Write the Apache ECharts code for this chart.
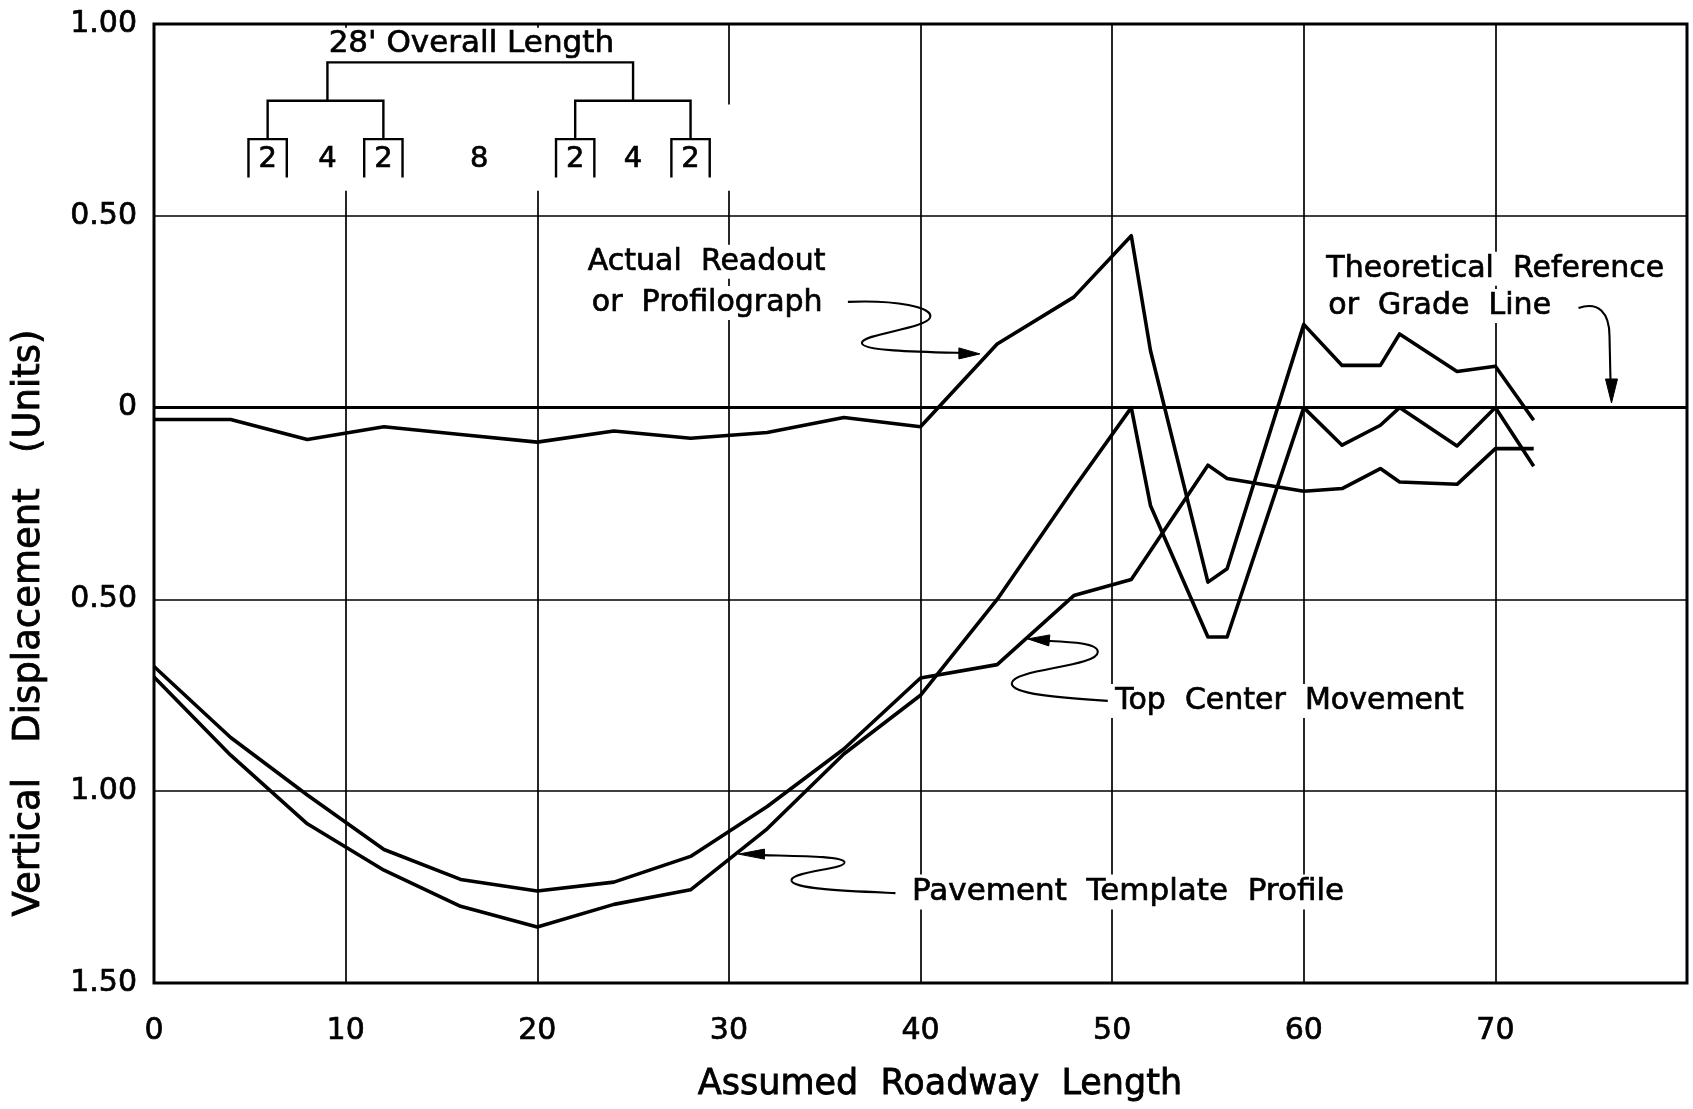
<!DOCTYPE html>
<html>
<head>
<meta charset="utf-8">
<script src="https://cdn.jsdelivr.net/npm/echarts@6/dist/echarts.min.js"></script>
<style>
  html, body { margin: 0; padding: 0; background: #fff; }
  #chart { width: 1693px; height: 1109px; }
</style>
</head>
<body>
<div id="chart"></div>
<script>
// Station along the roadway (ft) and vertical displacement (units, up = positive)
const readoutX  = [0, 4, 8, 12, 16, 20, 24, 28, 32, 36, 40, 44, 48, 51, 52, 55, 56, 60, 62, 64, 65, 68, 70, 72];
const readoutY  = [-0.031, -0.031, -0.083, -0.05, -0.07, -0.09, -0.061, -0.08, -0.065, -0.026, -0.05,
                   0.166, 0.288, 0.448, 0.149, -0.455, -0.42, 0.217, 0.11, 0.11, 0.192, 0.094, 0.108, -0.033];

const topCenterX = [0, 4, 8, 12, 16, 20, 24, 28, 32, 36, 40, 44, 48, 51, 55, 56, 60, 62, 64, 65, 68, 70, 72];
const topCenterY = [-0.675, -0.86, -1.01, -1.152, -1.23, -1.26, -1.237, -1.17, -1.04, -0.89, -0.705,
                    -0.67, -0.49, -0.448, -0.15, -0.185, -0.218, -0.211, -0.159, -0.194, -0.2, -0.107, -0.107];

const templateX = [0, 4, 8, 12, 16, 20, 24, 28, 32, 36, 40, 44, 48, 51, 52, 55, 56, 60, 62, 64, 65, 68, 70, 72];
const templateY = [-0.702, -0.906, -1.085, -1.206, -1.30, -1.354, -1.295, -1.257, -1.098, -0.903, -0.75,
                   -0.50, -0.21, 0, -0.255, -0.598, -0.598, 0, -0.098, -0.046, 0, -0.1, 0, -0.153];

const xTickValues = [0, 10, 20, 30, 40, 50, 60, 70];
const xTickLabels = ['0', '10', '20', '30', '40', '50', '60', '70'];
const yTickValues = [1.0, 0.5, 0, -0.5, -1.0, -1.5];
const yTickLabels = ['1.00', '0.50', '0', '0.50', '1.00', '1.50'];

// Axle spacing of the profilograph frame (ft)
const spacingLabels = ['2', '4', '2', '8', '2', '4', '2'];
const overallLabel = "28' Overall Length";

const FONT = "'DejaVu Sans', 'Liberation Sans', sans-serif";
const pairs = (xs, ys) => xs.map((x, i) => [x, ys[i]]);
const near = (arr, v) => arr.findIndex(a => Math.abs(a - v) < 1e-9);

const chart = echarts.init(document.getElementById('chart'), null, { renderer: 'canvas' });

const lineSeries = (name, xs, ys) => ({
  name, type: 'line', data: pairs(xs, ys), symbol: 'none', z: 3,
  lineStyle: { color: '#000', width: 3.6, join: 'round' }
});

const tickLabel = {
  fontSize: 30, color: '#000', fontFamily: FONT,
  textBorderColor: '#000', textBorderWidth: 0.7
};

const option = {
  backgroundColor: '#fff',
  animation: false,
  grid: {
    left: 154, right: 6, top: 24, bottom: 126,
    show: true, borderColor: '#000', borderWidth: 3, backgroundColor: '#fff',
    containLabel: false, outerBoundsMode: 'none'
  },
  xAxis: {
    type: 'value', min: 0, max: 80, interval: 10,
    axisLine: { show: false }, axisTick: { show: false },
    splitLine: { show: true, lineStyle: { color: '#000', width: 1.7 } },
    axisLabel: Object.assign({ margin: 33,
      formatter: v => { const i = near(xTickValues, v); return i < 0 ? '' : xTickLabels[i]; } }, tickLabel)
  },
  yAxis: {
    type: 'value', min: -1.5, max: 1.0, interval: 0.5,
    axisLine: { show: false }, axisTick: { show: false },
    splitLine: { show: true, lineStyle: { color: '#000', width: 1.7 } },
    axisLabel: Object.assign({ margin: 17,
      formatter: v => { const i = near(yTickValues, v); return i < 0 ? '' : yTickLabels[i]; } }, tickLabel)
  },
  series: [
    Object.assign(lineSeries('Actual Readout or Profilograph', readoutX, readoutY), {
      markLine: {
        silent: true, symbol: 'none', label: { show: false },
        lineStyle: { color: '#000', width: 2.8, type: 'solid' },
        data: [{ yAxis: 0 }]
      }
    }),
    lineSeries('Top Center Movement', topCenterX, topCenterY),
    lineSeries('Pavement Template Profile', templateX, templateY)
  ]
};
chart.setOption(option);

// ---- decorations: axle diagram, callouts, axis titles ----
const P = (x, y) => chart.convertToPixel({ gridIndex: 0 }, [x, y]);
const gfx = [];

function whiteRect(x0, y0, x1, y1) {
  const a = P(x0, y0), b = P(x1, y1);
  gfx.push({ type: 'rect', z: 1, silent: true,
    shape: { x: Math.min(a[0], b[0]), y: Math.min(a[1], b[1]), width: Math.abs(b[0] - a[0]), height: Math.abs(b[1] - a[1]) },
    style: { fill: '#fff' } });
}
function polyline(pts, w) {
  gfx.push({ type: 'polyline', z: 4, silent: true,
    shape: { points: pts.map(p => P(p[0], p[1])) },
    style: { stroke: '#000', lineWidth: w || 2.4, fill: null, lineJoin: 'miter' } });
}
function text(str, x, y, size, align, opts) {
  const p = P(x, y);
  const o = opts || {};
  gfx.push({ type: 'text', z: o.z || 2, silent: true, x: p[0] - (o.bg && align === 'left' ? 6 : 0), y: p[1],
    style: Object.assign({ legacy: false, text: str, x: 0, y: 0, fill: '#000',
      stroke: '#000', lineWidth: 0.7,
      font: size + 'px ' + FONT, align: align, verticalAlign: 'middle' },
      o.bg ? { backgroundColor: '#fff', padding: [2, 6] } : {}) });
}
// callout arrow: wavy leader given as pixel offsets from the tip, tip placed on the curve
function callout(tipX, tipY, segs, head) {
  const t = P(tipX, tipY);
  const at = q => [t[0] + q[0], t[1] + q[1]];
  let cur = at(segs[0]);
  const stroke = { stroke: '#000', lineWidth: 2.1, fill: null };
  for (let i = 1; i < segs.length; i++) {
    const s = segs[i];
    if (s.length === 3) {
      const c1 = at(s[0]), c2 = at(s[1]), e = at(s[2]);
      gfx.push({ type: 'bezierCurve', z: 4, silent: true,
        shape: { x1: cur[0], y1: cur[1], cpx1: c1[0], cpy1: c1[1], cpx2: c2[0], cpy2: c2[1], x2: e[0], y2: e[1] },
        style: stroke });
      cur = e;
    } else {
      const e = at(s[0]);
      gfx.push({ type: 'line', z: 4, silent: true,
        shape: { x1: cur[0], y1: cur[1], x2: e[0], y2: e[1] }, style: stroke });
      cur = e;
    }
  }
  gfx.push({ type: 'polygon', z: 4, silent: true,
    shape: { points: head.map(h => [t[0] + h[0], t[1] + h[1]]) },
    style: { fill: '#000', stroke: '#000', lineWidth: 1 } });
}

// blank area behind the axle diagram
whiteRect(4.2, 0.99, 29.6, 0.565);
whiteRect(29.6, 0.79, 30.4, 0.565);

// axle diagram
const boxCenters = [5.93, 11.97, 21.98, 28.0];
const labelXs = [5.93, 9.05, 11.97, 16.97, 21.98, 25.0, 28.0];
polyline([[9.05, 0.80], [9.05, 0.90], [25.0, 0.90], [25.0, 0.80]]);
polyline([[5.93, 0.70], [5.93, 0.80], [11.97, 0.80], [11.97, 0.70]]);
polyline([[21.98, 0.70], [21.98, 0.80], [28.0, 0.80], [28.0, 0.70]]);
boxCenters.forEach(c => polyline([[c - 1, 0.60], [c - 1, 0.70], [c + 1, 0.70], [c + 1, 0.60]]));
spacingLabels.forEach((s, i) => text(s, labelXs[i], 0.647, 29, 'center', { z: 4 }));
text(overallLabel, 16.56, 0.948, 31, 'center', { z: 4 });

// callout texts
text('Actual  Readout', 22.64, 0.38, 30, 'left', { bg: true });
text('or  Profilograph', 22.85, 0.273, 30, 'left', { bg: true });
text('Theoretical  Reference', 61.18, 0.362, 30, 'left', { bg: true });
text('or  Grade  Line', 61.28, 0.265, 30, 'left', { bg: true });
text('Top  Center  Movement', 50.16, -0.765, 30, 'left', { bg: true });
text('Pavement  Template  Profile', 39.56, -1.263, 31, 'left', { bg: true });

// callout leaders
callout(43.1, 0.14,
  [[-132, -52], [[-85, -54], [-45, -47], [-50, -36]], [[-55, -25], [-118, -20], [-118, -11]], [[-118, -3], [-60, -2], [-18, -1]]],
  [[0, 0], [-21, -6], [-21, 5]]);
callout(76.06, 0.012,
  [[-33, -95], [[-13, -102], [-2, -90], [-2, -67]], [[-1, -22]]],
  [[0, 0], [-6, -24], [6, -24]]);
callout(45.6, -0.603,
  [[80, 62], [[32, 59], [-18, 55], [-16, 44]], [[-14, 30], [70, 28], [70, 13]], [[70, 4], [42, 3], [20, 2]]],
  [[0, 0], [22, -4], [21, 7]]);
callout(30.5, -1.164,
  [[157, 39], [[112, 37], [52, 35], [53, 26]], [[54, 17], [108, 15], [106, 8]], [[104, 2], [62, 2], [24, 1]]],
  [[0, 0], [26, -5], [26, 5]]);

// axis titles
const titleStyle = { legacy: false, x: 0, y: 0, fill: '#000', stroke: '#000', lineWidth: 0.8,
  align: 'center', verticalAlign: 'middle' };
gfx.push({ type: 'text', z: 2, silent: true, x: 940, y: 1085,
  style: Object.assign({ text: 'Assumed  Roadway  Length', font: '35px ' + FONT }, titleStyle) });
gfx.push({ type: 'text', z: 2, silent: true, x: 29, y: 623, rotation: Math.PI / 2,
  style: Object.assign({ text: 'Vertical   Displacement   (Units)', font: '37px ' + FONT }, titleStyle) });

chart.setOption({ graphic: { elements: gfx } });
</script>
</body>
</html>
